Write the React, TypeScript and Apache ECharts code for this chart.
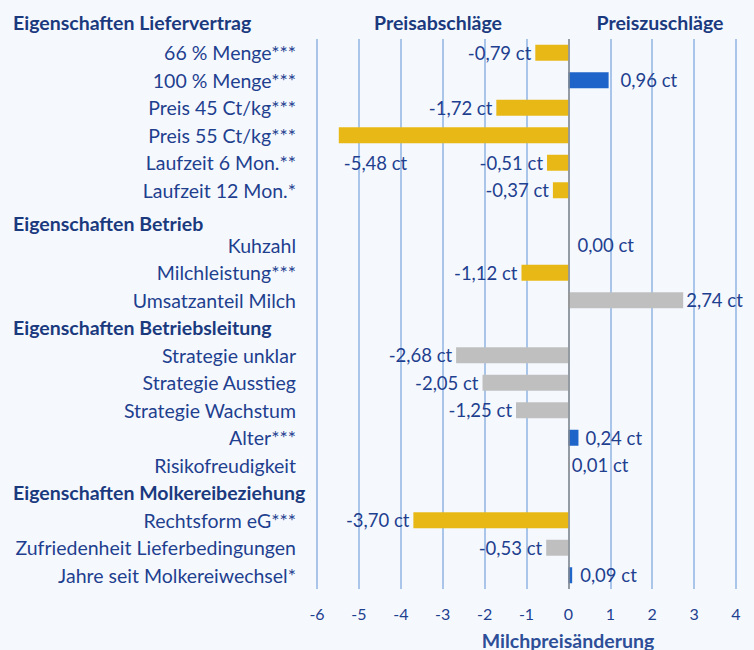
import React, { useEffect, useRef } from "react";
import * as echarts from "echarts";

const categories = [
  "66 % Menge***",
  "100 % Menge***",
  "Preis 45 Ct/kg***",
  "Preis 55 Ct/kg***",
  "Laufzeit 6 Mon.**",
  "Laufzeit 12 Mon.*",
  "Eigenschaften Betrieb",
  "Kuhzahl",
  "Milchleistung***",
  "Umsatzanteil Milch",
  "Eigenschaften Betriebsleitung",
  "Strategie unklar",
  "Strategie Ausstieg",
  "Strategie Wachstum",
  "Alter***",
  "Risikofreudigkeit",
  "Eigenschaften Molkereibeziehung",
  "Rechtsform eG***",
  "Zufriedenheit Lieferbedingungen",
  "Jahre seit Molkereiwechsel*",
];

const headers = [
  "Eigenschaften Betrieb",
  "Eigenschaften Betriebsleitung",
  "Eigenschaften Molkereibeziehung",
];

const values: (number | null)[] = [
  -0.79, 0.96, -1.72, -5.48, -0.51, -0.37,
  null, 0.0, -1.12, 2.74,
  null, -2.68, -2.05, -1.25, 0.24, 0.01,
  null, -3.7, -0.53, 0.09,
];

// s = significant negative, p = significant positive, n = not significant
const significance = [
  "s", "p", "s", "s", "s", "s",
  "", "n", "s", "n",
  "", "n", "n", "n", "p", "n",
  "", "s", "n", "p",
];

const xTicks = { min: -6, max: 4, interval: 1 };
const topHeader = "Eigenschaften Liefervertrag";
const leftTitle = "Preisabschläge";
const rightTitle = "Preiszuschläge";
const xName = "Milchpreisänderung";

const COLORS: Record<string, string> = { s: "#E8B817", p: "#1F64C8", n: "#BFBFBF" };
const TEXT = "#1F3F8F";
const HEAD = "#1B3A7E";
const FONT = "Lato, 'Open Sans', sans-serif";
const LABEL_SIZE = 19.5;
const VALUE_SIZE = 18.5;

const labelTweaks: Record<number, any> = {
  1: { distance: 12 },
  3: { position: "insideLeft", distance: 5, offset: [0, 28] },
  7: { distance: 9 },
  9: { distance: 3 },
  14: { distance: 7 },
  15: { distance: 3 },
  19: { distance: 8 },
};

export default function App() {
  const ref = useRef<HTMLDivElement>(null);
  useEffect(() => {
    document.body.style.margin = "0";
    const chart = echarts.init(ref.current!, undefined, { renderer: "svg" });
    const items = values.map((v, i) => {
      if (v === null) return { value: null };
      return {
        value: v,
        itemStyle: { color: COLORS[significance[i]] },
        label: {
          show: true,
          position: v < 0 ? "left" : "right",
          distance: 4,
          ...(labelTweaks[i] || {}),
        },
      };
    });
    const headStyle = {
      fontSize: LABEL_SIZE,
      fontWeight: "bold",
      color: HEAD,
      fontFamily: FONT,
      width: 283,
      align: "left",
    };
    chart.setOption({
      animation: false,
      backgroundColor: "#F5F9FE",
      textStyle: { fontFamily: FONT },
      grid: { left: 317, right: 18, top: 39, bottom: 61 },
      xAxis: {
        type: "value",
        min: xTicks.min,
        max: xTicks.max,
        interval: xTicks.interval,
        axisLine: { show: false },
        axisTick: { show: false },
        axisLabel: { color: TEXT, fontSize: 16, margin: 16, fontFamily: FONT },
        splitLine: { lineStyle: { color: "#8FB4E3", width: 1.5 } },
      },
      yAxis: {
        type: "category",
        data: categories,
        inverse: true,
        axisLine: { show: false, onZero: false },
        axisTick: { show: false },
        splitLine: { show: false },
        axisLabel: {
          margin: 21,
          interval: 0,
          formatter: (v: string) =>
            v === headers[0] ? `{h2|${v}}` : headers.includes(v) ? `{h|${v}}` : `{n|${v}}`,
          rich: {
            n: { fontSize: LABEL_SIZE, color: TEXT, fontFamily: FONT },
            h: headStyle,
            h2: { ...headStyle, padding: [12, 0, 0, 0] },
          },
        },
      },
      series: [
        {
          type: "bar",
          barWidth: 16,
          data: items,
          label: {
            color: TEXT,
            fontSize: VALUE_SIZE,
            fontFamily: FONT,
            formatter: (p: any) => p.value.toFixed(2).replace(".", ",") + " ct",
          },
          markLine: {
            silent: true,
            symbol: "none",
            label: { show: false },
            lineStyle: { color: "#8C8C8C", width: 1.5, type: "solid" },
            data: [{ xAxis: 0 }],
          },
        },
      ],
      graphic: [
        {
          type: "text",
          x: 13,
          y: 22,
          style: { text: topHeader, fontSize: LABEL_SIZE, fontWeight: "bold", fill: HEAD, fontFamily: FONT, align: "left", verticalAlign: "middle" },
        },
        {
          type: "text",
          x: 438,
          y: 22,
          style: { text: leftTitle, fontSize: LABEL_SIZE, fontWeight: "bold", fill: HEAD, fontFamily: FONT, align: "center", verticalAlign: "middle" },
        },
        {
          type: "text",
          x: 660,
          y: 22,
          style: { text: rightTitle, fontSize: LABEL_SIZE, fontWeight: "bold", fill: HEAD, fontFamily: FONT, align: "center", verticalAlign: "middle" },
        },
        {
          type: "text",
          x: 568,
          y: 640,
          style: { text: xName, fontSize: LABEL_SIZE, fontWeight: "bold", fill: "#2E4F98", fontFamily: FONT, align: "center", verticalAlign: "middle" },
        },
      ],
    });
    return () => chart.dispose();
  }, []);
  return <div ref={ref} style={{ width: 754, height: 650 }} />;
}
